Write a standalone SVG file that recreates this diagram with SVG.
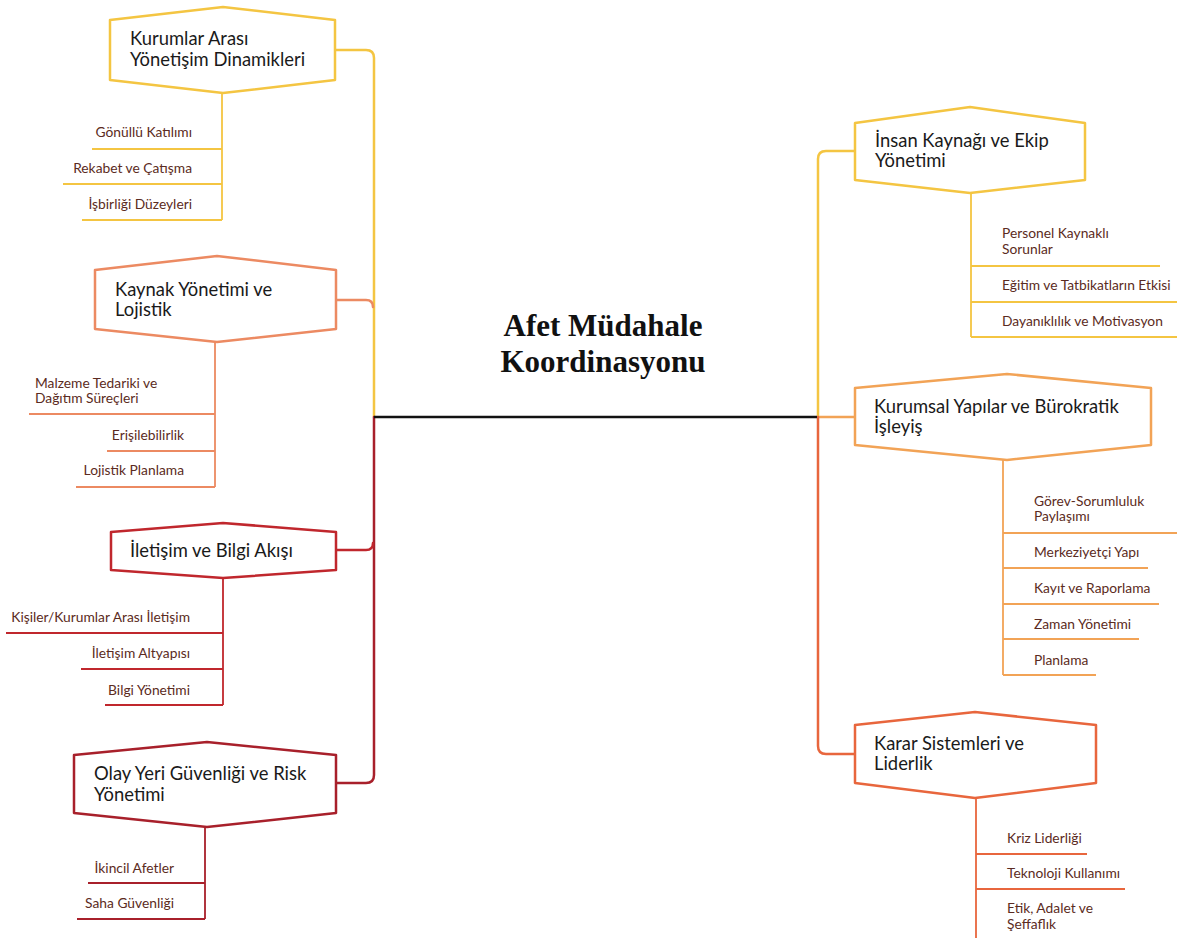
<svg xmlns="http://www.w3.org/2000/svg" width="1177" height="938" viewBox="0 0 1177 938">
<style>
.hex{fill:#fff;stroke-width:2.5;stroke-linejoin:round}
.ht{font-family:Lato,"Open Sans",sans-serif;font-size:18.4px;fill:#1a1a1a}
.ct{font-family:Lato,"Open Sans",sans-serif;font-size:13.8px;fill:#5b2b22}
.ln{fill:none;stroke-width:2.5;stroke-linecap:round}
.cl{fill:none;stroke-width:1.8}
.y{stroke:#f4c542}.s{stroke:#ec8a62}.r{stroke:#c0272d}.d{stroke:#a8202b}.o{stroke:#f2a356}.k{stroke:#e8663d}
.e{text-anchor:end}
</style>
<rect width="1177" height="938" fill="#fff"/>
<g id="connectors">
<path class="ln y" d="M335,50 H366 Q374,50 374,58 V417"/>
<path class="ln s" d="M336,300 H366 Q373,300 373,307"/>
<path class="ln d" d="M374,417 V775 Q374,783 366,783 H336"/>
<path class="ln r" d="M336,550 H366 Q373,550 373,543"/>
<path class="ln y" d="M855,151 H826 Q818,151 818,159 V417"/>
<path class="ln o" d="M818,417 H855"/>
<path class="ln k" d="M818,417 V746 Q818,754 826,754 H855"/>
<path d="M374,417 H817" stroke="#111" stroke-width="2.5" fill="none"/>
</g>
<g id="title">
<text x="603" y="336" text-anchor="middle" font-family="'Liberation Serif',serif" font-weight="bold" font-size="31" fill="#111">Afet Müdahale</text>
<text x="603" y="372" text-anchor="middle" font-family="'Liberation Serif',serif" font-weight="bold" font-size="31" fill="#111">Koordinasyonu</text>
</g>
<g id="node-kurumlar">
<polygon class="hex y" points="110,20 223,7 335,20 335,80 223,93 110,80"/>
<text class="ht" x="130" y="45">Kurumlar Arası</text>
<text class="ht" x="130" y="66">Yönetişim Dinamikleri</text>
<path class="cl y" d="M222,93 V220 M92,149 H222 M63,184 H222 M82,220 H222"/>
<text class="ct e" x="192" y="137">Gönüllü Katılımı</text>
<text class="ct e" x="192" y="173">Rekabet ve Çatışma</text>
<text class="ct e" x="192" y="209">İşbirliği Düzeyleri</text>
</g>
<g id="node-kaynak">
<polygon class="hex s" points="95,270 217,256 336,270 336,329 217,342 95,329"/>
<text class="ht" x="115" y="296">Kaynak Yönetimi ve</text>
<text class="ht" x="115" y="316">Lojistik</text>
<path class="cl s" d="M215,342 V487 M29,414 H215 M107,451 H215 M76,487 H215"/>
<text class="ct" x="35" y="388">Malzeme Tedariki ve</text>
<text class="ct" x="35" y="403">Dağıtım Süreçleri</text>
<text class="ct e" x="184" y="440">Erişilebilirlik</text>
<text class="ct e" x="184" y="475">Lojistik Planlama</text>
</g>
<g id="node-iletisim">
<polygon class="hex r" points="111,532 223,523 336,532 336,570 223,578 111,570"/>
<text class="ht" x="130" y="557">İletişim ve Bilgi Akışı</text>
<path class="cl r" d="M223,578 V705 M6,633 H223 M81,669 H223 M105,705 H223"/>
<text class="ct e" x="190" y="622">Kişiler/Kurumlar Arası İletişim</text>
<text class="ct e" x="190" y="658">İletişim Altyapısı</text>
<text class="ct e" x="190" y="695">Bilgi Yönetimi</text>
</g>
<g id="node-olay">
<polygon class="hex d" points="74,755 207,742 336,755 336,813 207,827 74,813"/>
<text class="ht" x="94" y="780">Olay Yeri Güvenliği ve Risk</text>
<text class="ht" x="94" y="801">Yönetimi</text>
<path class="cl d" d="M205,827 V919 M88,883 H205 M77,919 H205"/>
<text class="ct e" x="174" y="873">İkincil Afetler</text>
<text class="ct e" x="174" y="908">Saha Güvenliği</text>
</g>
<g id="node-insan">
<polygon class="hex y" points="855,123 970,107 1085,123 1085,180 970,193 855,180"/>
<text class="ht" x="875" y="147">İnsan Kaynağı ve Ekip</text>
<text class="ht" x="875" y="167">Yönetimi</text>
<path class="cl y" d="M971,193 V337 M971,266 H1160 M971,302 H1177 M971,337 H1177"/>
<text class="ct" x="1002" y="238">Personel Kaynaklı</text>
<text class="ct" x="1002" y="254">Sorunlar</text>
<text class="ct" x="1002" y="290">Eğitim ve Tatbikatların Etkisi</text>
<text class="ct" x="1002" y="326">Dayanıklılık ve Motivasyon</text>
</g>
<g id="node-kurumsal">
<polygon class="hex o" points="855,388 1007,374 1151,388 1151,445 1007,460 855,445"/>
<text class="ht" x="874" y="413">Kurumsal Yapılar ve Bürokratik</text>
<text class="ht" x="874" y="433">İşleyiş</text>
<path class="cl o" d="M1003,460 V675 M1003,533 H1177 M1003,568 H1148 M1003,604 H1159 M1003,639 H1139 M1003,675 H1096"/>
<text class="ct" x="1034" y="506">Görev-Sorumluluk</text>
<text class="ct" x="1034" y="521">Paylaşımı</text>
<text class="ct" x="1034" y="557">Merkeziyetçi Yapı</text>
<text class="ct" x="1034" y="593">Kayıt ve Raporlama</text>
<text class="ct" x="1034" y="629">Zaman Yönetimi</text>
<text class="ct" x="1034" y="665">Planlama</text>
</g>
<g id="node-karar">
<polygon class="hex k" points="855,725 975,712 1096,725 1096,783 975,798 855,783"/>
<text class="ht" x="874" y="750">Karar Sistemleri ve</text>
<text class="ht" x="874" y="770">Liderlik</text>
<path class="cl k" d="M976,798 V938 M976,854 H1087 M976,889 H1125"/>
<text class="ct" x="1007" y="843">Kriz Liderliği</text>
<text class="ct" x="1007" y="878">Teknoloji Kullanımı</text>
<text class="ct" x="1007" y="913">Etik, Adalet ve</text>
<text class="ct" x="1007" y="929">Şeffaflık</text>
</g>
</svg>
